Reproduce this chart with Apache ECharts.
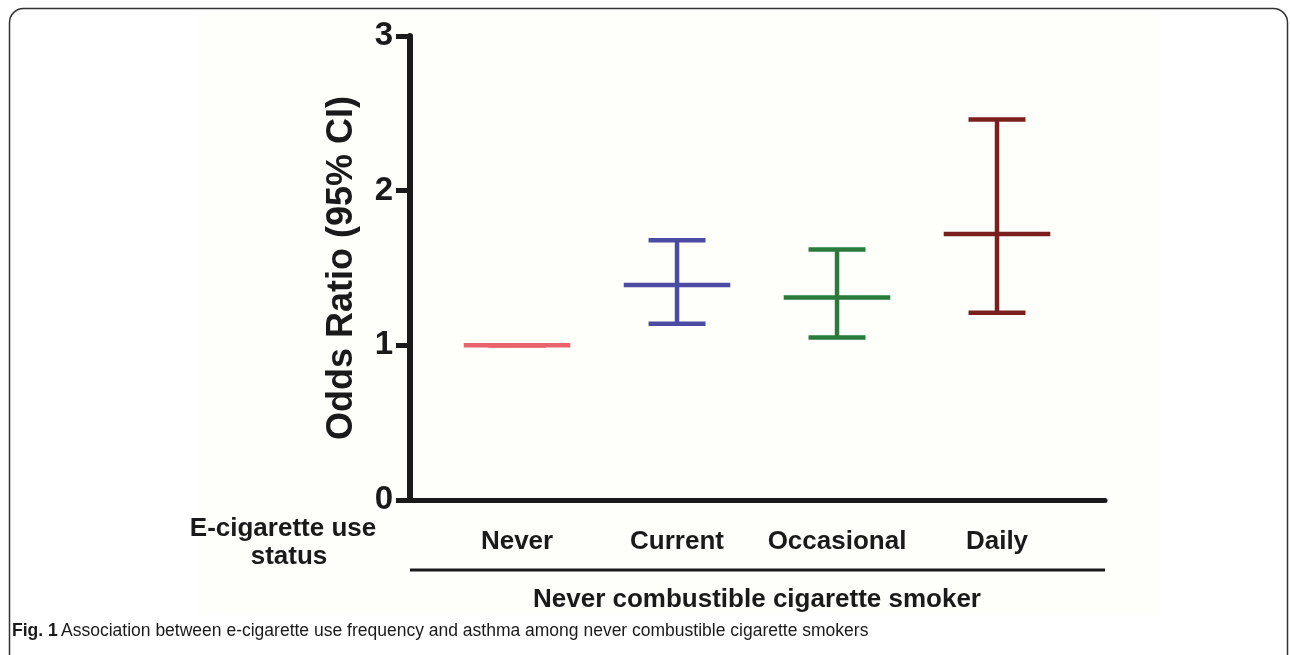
<!DOCTYPE html>
<html>
<head>
<meta charset="utf-8">
<style>html,body{margin:0;padding:0;background:#fff;}#chart{width:1290px;height:655px;}</style>
<script src="https://cdn.jsdelivr.net/npm/echarts@6/dist/echarts.min.js"></script>
</head>
<body>
<div id="chart"></div>
<script>
const categories = ['Never', 'Current', 'Occasional', 'Daily'];
const oddsRatio = [1.0, 1.39, 1.31, 1.72];
const ciLower = [1.0, 1.14, 1.05, 1.21];
const ciUpper = [1.0, 1.68, 1.62, 2.46];
const yTickValues = [0, 1, 2, 3];
const colors = ['#e8636e', '#4b4ba3', '#2a7b3b', '#7a1e1e'];

const chart = echarts.init(document.getElementById('chart'));
const FONT = "'Liberation Sans', Arial, sans-serif";

const data = categories.map((c, i) => [i, oddsRatio[i], ciLower[i], ciUpper[i]]);

const option = {
  backgroundColor: '#ffffff',
  animation: false,
  grid: { left: 410, right: 185, top: 36, bottom: 155 },
  xAxis: {
    type: 'value', min: -0.669, max: 3.675,
    axisLine: { show: true, onZero: false, lineStyle: { color: '#1a1a1a', width: 5 } },
    axisTick: { show: false }, axisLabel: { show: false }, splitLine: { show: false }
  },
  yAxis: {
    type: 'value', min: yTickValues[0], max: yTickValues[yTickValues.length - 1], interval: 1,
    name: 'Odds Ratio (95% CI)', nameLocation: 'middle', nameRotate: 90, nameGap: 50,
    nameTextStyle: { fontFamily: FONT, fontWeight: 'bold', fontSize: 36, color: '#1a1a1a' },
    axisLine: { show: true, onZero: false, lineStyle: { color: '#1a1a1a', width: 6 } },
    axisTick: { show: true, length: 14, lineStyle: { color: '#1a1a1a', width: 5 } },
    axisLabel: { fontFamily: FONT, fontWeight: 'bold', fontSize: 33, color: '#1a1a1a', margin: 17 },
    splitLine: { show: false }
  },
  graphic: [
    { type: 'rect', z: -10, shape: { x: 195, y: 15, width: 965, height: 600 }, style: { fill: '#fefefb' } },
    { type: 'rect', shape: { x: 9.5, y: 8.5, width: 1278, height: 720, r: 14 }, style: { fill: null, stroke: '#333', lineWidth: 1.5 } },
    { type: 'text', x: 283, y: 529, style: { text: 'E-cigarette use', fontFamily: FONT, fontWeight: 'bold', fontSize: 26, fill: '#1a1a1a', align: 'center', verticalAlign: 'middle' } },
    { type: 'text', x: 289, y: 557, style: { text: 'status', fontFamily: FONT, fontWeight: 'bold', fontSize: 26, fill: '#1a1a1a', align: 'center', verticalAlign: 'middle' } },
    { type: 'line', shape: { x1: 410, y1: 570, x2: 1105, y2: 570 }, style: { stroke: '#1a1a1a', lineWidth: 3 } },
    { type: 'text', x: 757, y: 600, style: { text: 'Never combustible cigarette smoker', fontFamily: FONT, fontWeight: 'bold', fontSize: 26, fill: '#1a1a1a', align: 'center', verticalAlign: 'middle' } },
    { type: 'text', x: 12, y: 631, style: {
        text: '{b|Fig. 1} {n|Association between e-cigarette use frequency and asthma among never combustible cigarette smokers}',
        verticalAlign: 'middle',
        rich: {
          b: { fontFamily: FONT, fontWeight: 'bold', fontSize: 17.5, fill: '#1a1a1a' },
          n: { fontFamily: FONT, fontSize: 17.5, fill: '#1a1a1a' }
        } } }
  ],
  series: [{
    type: 'custom',
    data: data,
    renderItem: function (params, api) {
      const i = api.value(0);
      const mid = api.coord([i, api.value(1)]);
      const lo = api.coord([i, api.value(2)]);
      const hi = api.coord([i, api.value(3)]);
      const unit = api.size([1, 0])[0];
      const mh = unit * 0.333, ch = unit * 0.178;
      const style = { stroke: colors[i], lineWidth: 4.5, lineCap: 'butt' };
      const base = api.coord([i, 0]);
      const children = [
        { type: 'line', shape: { x1: mid[0], y1: lo[1], x2: mid[0], y2: hi[1] }, style: style },
        { type: 'line', shape: { x1: mid[0] - ch, y1: lo[1], x2: mid[0] + ch, y2: lo[1] }, style: style },
        { type: 'line', shape: { x1: mid[0] - ch, y1: hi[1], x2: mid[0] + ch, y2: hi[1] }, style: style },
        { type: 'line', shape: { x1: mid[0] - mh, y1: mid[1], x2: mid[0] + mh, y2: mid[1] }, style: style },
        { type: 'text', x: mid[0], y: base[1] + 42, style: { text: categories[i], fontFamily: FONT, fontWeight: 'bold', fontSize: 26, fill: '#1a1a1a', align: 'center', verticalAlign: 'middle' } }
      ];
      return { type: 'group', children: children };
    }
  }]
};
chart.setOption(option);
</script>
</body>
</html>
